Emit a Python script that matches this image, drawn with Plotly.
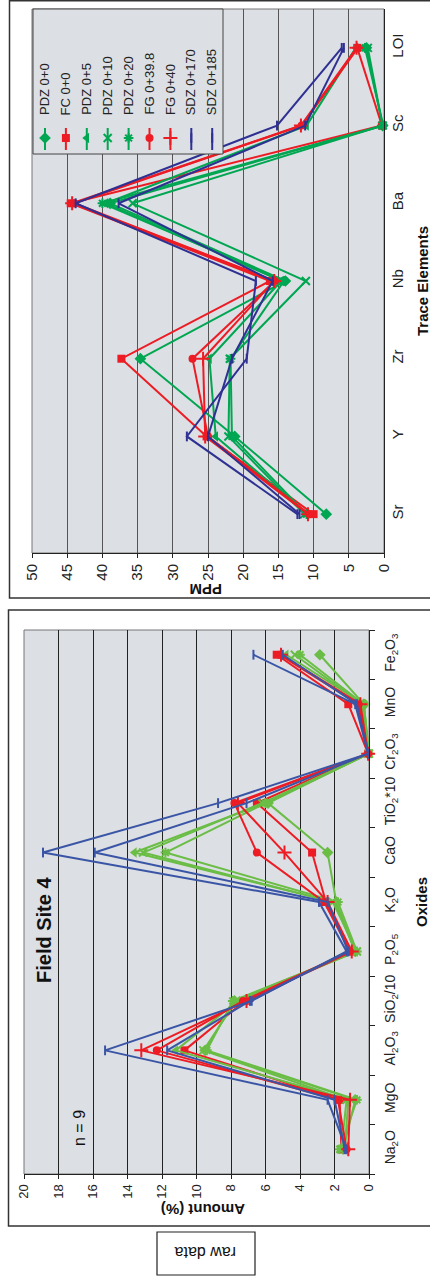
import plotly.graph_objects as go

W, H = 430, 1278

# ---------------- data ----------------
series_names = ["PDZ 0+0", "FC 0+0", "PDZ 0+5", "PDZ 0+10", "PDZ 0+20",
                "FG 0+39.8", "FG 0+40", "SDZ 0+170", "SDZ 0+185"]

oxides = ["Na<sub>2</sub>O", "MgO", "Al<sub>2</sub>O<sub>3</sub>", "SiO<sub>2</sub>/10",
          "P<sub>2</sub>O<sub>5</sub>", "K<sub>2</sub>O", "CaO", "TiO<sub>2</sub>*10",
          "Cr<sub>2</sub>O<sub>3</sub>", "MnO", "Fe<sub>2</sub>O<sub>3</sub>"]

ox_pdz00 = [1.5, 0.8, 9.5, 7.8, 0.8, 1.9, 2.4, 5.85, 0.05, 0.3, 2.85]
ox_fc00 = [1.6, 1.7, 10.7, 7.2, 1.0, 2.5, 3.3, 6.5, 0.05, 1.2, 5.35]
ox_pdz05 = [1.4, 1.2, 11.2, 7.6, 0.8, 2.0, 13.6, 6.0, 0.0, 0.3, 4.8]
ox_pdz10 = [1.6, 1.3, 9.6, 7.7, 0.7, 2.1, 13.1, 6.2, 0.0, 0.4, 4.3]
ox_pdz20 = [1.7, 0.7, 9.4, 7.9, 0.7, 1.8, 11.8, 6.0, 0.0, 0.3, 4.0]
ox_fg398 = [1.3, 1.8, 12.3, 7.3, 1.1, 2.6, 6.5, 7.8, 0.05, 0.6, 5.2]
ox_fg40 = [1.2, 1.1, 13.2, 7.1, 1.0, 2.4, 4.9, 7.6, 0.05, 0.5, 5.1]
ox_sdz170 = [1.3, 2.4, 15.3, 6.8, 1.3, 2.9, 18.9, 8.75, 0.05, 0.8, 6.7]
ox_sdz185 = [1.4, 2.0, 11.7, 6.9, 1.2, 2.4, 15.9, 7.1, 0.05, 0.7, 5.0]

trace_elements = ["Sr", "Y", "Zr", "Nb", "Ba", "Sc", "LOI"]

te_pdz00 = [8.2, 21.2, 34.6, 14.0, 38.9, 0.2, 2.5]
te_fc00 = [10.0, 25.2, 37.3, 16.2, 44.5, 0.3, 3.8]
te_pdz05 = [11.0, 23.9, 24.8, 14.6, 39.5, 11.0, 4.0]
te_pdz10 = [11.3, 22.1, 21.9, 11.1, 35.7, 0.2, 2.3]
te_pdz20 = [11.0, 21.6, 21.8, 14.2, 40.0, 0.1, 2.7]
te_fg398 = [10.6, 25.0, 27.2, 15.5, 44.0, 11.7, 3.7]
te_fg40 = [10.8, 25.4, 25.7, 15.6, 44.3, 11.8, 3.9]
te_sdz170 = [12.3, 28.0, 19.5, 18.2, 43.8, 15.2, 6.0]
te_sdz185 = [12.0, 25.0, 21.6, 15.8, 37.7, 11.2, 5.7]

ox_values = [ox_pdz00, ox_fc00, ox_pdz05, ox_pdz10, ox_pdz20, ox_fg398, ox_fg40, ox_sdz170, ox_sdz185]
te_values = [te_pdz00, te_fc00, te_pdz05, te_pdz10, te_pdz20, te_fg398, te_fg40, te_sdz170, te_sdz185]

# ---------------- styles ----------------
FONT = "Liberation Sans, Arial, sans-serif"
RED = "#ed1c24"
GREEN_UP = "#00a651"
BLUE_UP = "#2e3192"
GREEN_LO = "#6abd45"
BLUE_LO = "#3a55a6"
BG = "#dcdfe4"

kinds = ["g", "r", "g", "g", "g", "r", "r", "b", "b"]
symbols = ["diamond", "square", "triangle-left", "x-thin", "asterisk",
           "circle", "cross-thin", "line-ns", "line-ns"]
sizes = [9, 8, 9, 8, 8, 8, 10, 7, 7]
THIN = ("x-thin", "asterisk", "cross-thin", "line-ns")


def col(kind, upper):
    if kind == "r":
        return RED
    if kind == "g":
        return GREEN_UP if upper else GREEN_LO
    return BLUE_UP if upper else BLUE_LO


def px(x):
    return x / W


def py(y):
    return 1 - y / H


def mk(i, c):
    return dict(symbol=symbols[i], size=sizes[i], color=c,
                line=dict(color=c, width=2 if symbols[i] in THIN else 0))


fig = go.Figure()

# lower chart (oxides)
for i, name in enumerate(series_names):
    c = col(kinds[i], False)
    fig.add_trace(go.Scatter(
        x=ox_values[i], y=oxides, xaxis="x", yaxis="y", name=name,
        mode="lines+markers", cliponaxis=False,
        line=dict(color=c, width=2), marker=mk(i, c),
    ))

# upper chart (trace elements)
for i, name in enumerate(series_names):
    c = col(kinds[i], True)
    fig.add_trace(go.Scatter(
        x=te_values[i], y=trace_elements, xaxis="x2", yaxis="y2", name=name,
        mode="lines+markers", cliponaxis=False,
        line=dict(color=c, width=2), marker=mk(i, c),
    ))

# legend (drawn on an overlay axis in pixel units)
LX0, LX1, LY0, LY1 = 33, 223, 9, 154
fig.add_trace(go.Scatter(
    x=[LX0, LX1, LX1, LX0, LX0], y=[LY0, LY0, LY1, LY1, LY0],
    xaxis="x3", yaxis="y3", mode="lines", fill="toself", fillcolor=BG,
    line=dict(color="#444", width=1), hoverinfo="skip",
))
annotations = []
for i, name in enumerate(series_names):
    c = col(kinds[i], True)
    xi = 45 + i * 20.9
    fig.add_trace(go.Scatter(
        x=[xi, xi], y=[128, 150], xaxis="x3", yaxis="y3", mode="lines",
        line=dict(color=c, width=2), hoverinfo="skip",
    ))
    fig.add_trace(go.Scatter(
        x=[xi], y=[138], xaxis="x3", yaxis="y3", mode="markers", cliponaxis=False,
        marker=mk(i, c), hoverinfo="skip",
    ))
    annotations.append(dict(
        x=px(xi), y=py(117), xref="paper", yref="paper", text=name, showarrow=False,
        textangle=-90, xanchor="center", yanchor="bottom",
        font=dict(family=FONT, size=13, color="#222"),
    ))


def txt(x, y, t, size, angle, bold=False):
    return dict(x=px(x), y=py(y), xref="paper", yref="paper",
                text=f"<b>{t}</b>" if bold else t, showarrow=False,
                textangle=angle, xanchor="center", yanchor="middle",
                font=dict(family=FONT, size=size, color="#111"))


annotations += [
    txt(44, 930, "Field Site 4", 20, -90, True),
    txt(79, 1128, "n = 9", 16, -90),
    txt(421, 902, "Oxides", 15, -90, True),
    txt(203, 1210, "Amount (%)", 15, 180, True),
    txt(423, 281, "Trace Elements", 15, -90, True),
    txt(206, 590, "PPM", 15, 180, True),
    txt(206, 1253, "raw data", 16, 180),
]

shapes = [
    # plot area backgrounds
    dict(type="rect", xref="paper", yref="paper", layer="below",
         x0=px(24), x1=px(369), y0=py(1174), y1=py(630),
         fillcolor=BG, line=dict(color="#777", width=1)),
    dict(type="rect", xref="paper", yref="paper", layer="below",
         x0=px(32), x1=px(384), y0=py(553), y1=py(9),
         fillcolor=BG, line=dict(color="#777", width=1)),
    # outer frames
    dict(type="rect", xref="paper", yref="paper", layer="below",
         x0=px(8.5), x1=1.05, y0=py(1226), y1=py(610),
         line=dict(color="#333", width=1.5)),
    dict(type="rect", xref="paper", yref="paper", layer="below",
         x0=px(9.5), x1=1.05, y0=py(598), y1=py(0.8),
         line=dict(color="#333", width=1.5)),
    # raw data box
    dict(type="rect", xref="paper", yref="paper", layer="below",
         x0=px(157), x1=px(255), y0=py(1275), y1=py(1232),
         line=dict(color="#222", width=1.2)),
]

axis_common = dict(showline=True, linecolor="#222", linewidth=1, zeroline=False,
                   ticks="outside", tickcolor="#222", mirror=False, automargin=False)

fig.update_layout(
    width=W, height=H, margin=dict(l=0, r=0, t=0, b=0, pad=0, autoexpand=False),
    paper_bgcolor="white", plot_bgcolor="rgba(0,0,0,0)",
    showlegend=False, font=dict(family=FONT, color="#222"),
    xaxis=dict(domain=[px(24), px(369)], anchor="y", range=[20, 0], dtick=2, tick0=0,
               tickangle=-90, ticklen=4, showgrid=True, gridcolor="#222", gridwidth=1,
               tickfont=dict(family=FONT, size=13, color="#222"), **axis_common),
    yaxis=dict(domain=[py(1174), py(630)], anchor="x", side="right", type="category",
               categoryorder="array", categoryarray=oxides, range=[-0.5, 10.5],
               tickson="boundaries", ticklen=5, showgrid=False, tickangle=-90,
               ticklabelstandoff=8,
               tickfont=dict(family=FONT, size=14, color="#222"), **axis_common),
    xaxis2=dict(domain=[px(32), px(384)], anchor="y2", range=[50, 0], dtick=5, tick0=0,
                tickangle=-90, ticklen=4, showgrid=True, gridcolor="#555", gridwidth=1.3,
                tickfont=dict(family=FONT, size=15, color="#222"), **axis_common),
    yaxis2=dict(domain=[py(553), py(9)], anchor="x2", side="right", type="category",
                categoryorder="array", categoryarray=trace_elements, range=[-0.5, 6.5],
                showgrid=False, tickangle=-90, ticks="", automargin=False,
                tickfont=dict(family=FONT, size=15, color="#222"),
                showline=True, linecolor="#222", linewidth=1, zeroline=False),
    xaxis3=dict(domain=[px(31), px(225)], anchor="y3", range=[31, 225], visible=False,
                automargin=False),
    yaxis3=dict(domain=[py(156), py(7)], anchor="x3", range=[156, 7], visible=False,
                automargin=False),
    annotations=annotations, shapes=shapes,
)

fig.write_html("out.html")
